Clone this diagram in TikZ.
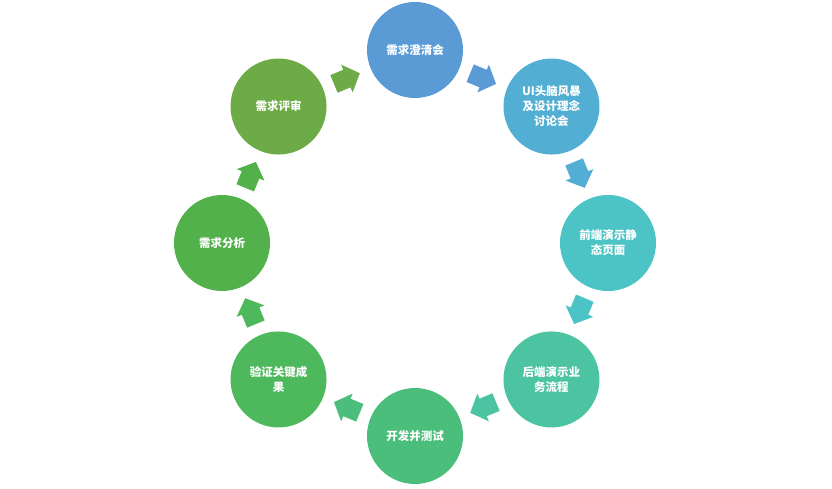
\documentclass[tikz,border=0pt]{standalone}
\usepackage{fontspec}
\usetikzlibrary{calc}
\newfontfamily\cjk{Noto Sans CJK SC}
\definecolor{c1}{HTML}{5B9BD5}
\definecolor{c2}{HTML}{52AFD3}
\definecolor{c3}{HTML}{4CC4C6}
\definecolor{c4}{HTML}{4CC4A2}
\definecolor{c5}{HTML}{4CBE7B}
\definecolor{c6}{HTML}{4DB85C}
\definecolor{c7}{HTML}{53B14B}
\definecolor{c8}{HTML}{6CAB46}
\tikzset{
  stage/.style={circle, minimum size=96pt, inner sep=0pt, fill=#1, text=white,
    align=center, font=\cjk\bfseries\fontsize{11.5}{15}\selectfont},
  blockarrow/.pic={\fill[pic actions] (-14,-9.5) -- (0,-9.5) -- (0,-15) -- (14,0) -- (0,15) -- (0,9.5) -- (-14,9.5) -- cycle;}
}
\begin{document}
\begin{tikzpicture}[x=1pt,y=1pt]
\useasboundingbox (0,0) rectangle (832,488);
\coordinate (O) at (415,245);
\node[stage=c1] (n1) at ($(O)+(90:193)$) {需求澄清会};
\node[stage=c2] (n2) at ($(O)+(45:193)$) {UI头脑风暴\\及设计理念\\讨论会};
\node[stage=c3] (n3) at ($(O)+(0:193)$) {前端演示静\\态页面};
\node[stage=c4] (n4) at ($(O)+(-45:193)$) {后端演示业\\务流程};
\node[stage=c5] (n5) at ($(O)+(-90:193)$) {开发并测试};
\node[stage=c6] (n6) at ($(O)+(-135:193)$) {验证关键成\\果};
\node[stage=c7] (n7) at ($(O)+(180:193)$) {需求分析};
\node[stage=c8] (n8) at ($(O)+(135:193)$) {需求评审};
\foreach \i/\c in {1/c1,2/c2,3/c3,4/c4,5/c5,6/c6,7/c7,8/c8}{
  \pgfmathsetmacro{\ang}{90-45*\i+22.5}
  \pgfmathsetmacro{\rot}{\ang-90}
  \pic[fill=\c, rotate=\rot] (a\i) at ($(O)+(\ang:178)$) {blockarrow};
}
\end{tikzpicture}
\end{document}
